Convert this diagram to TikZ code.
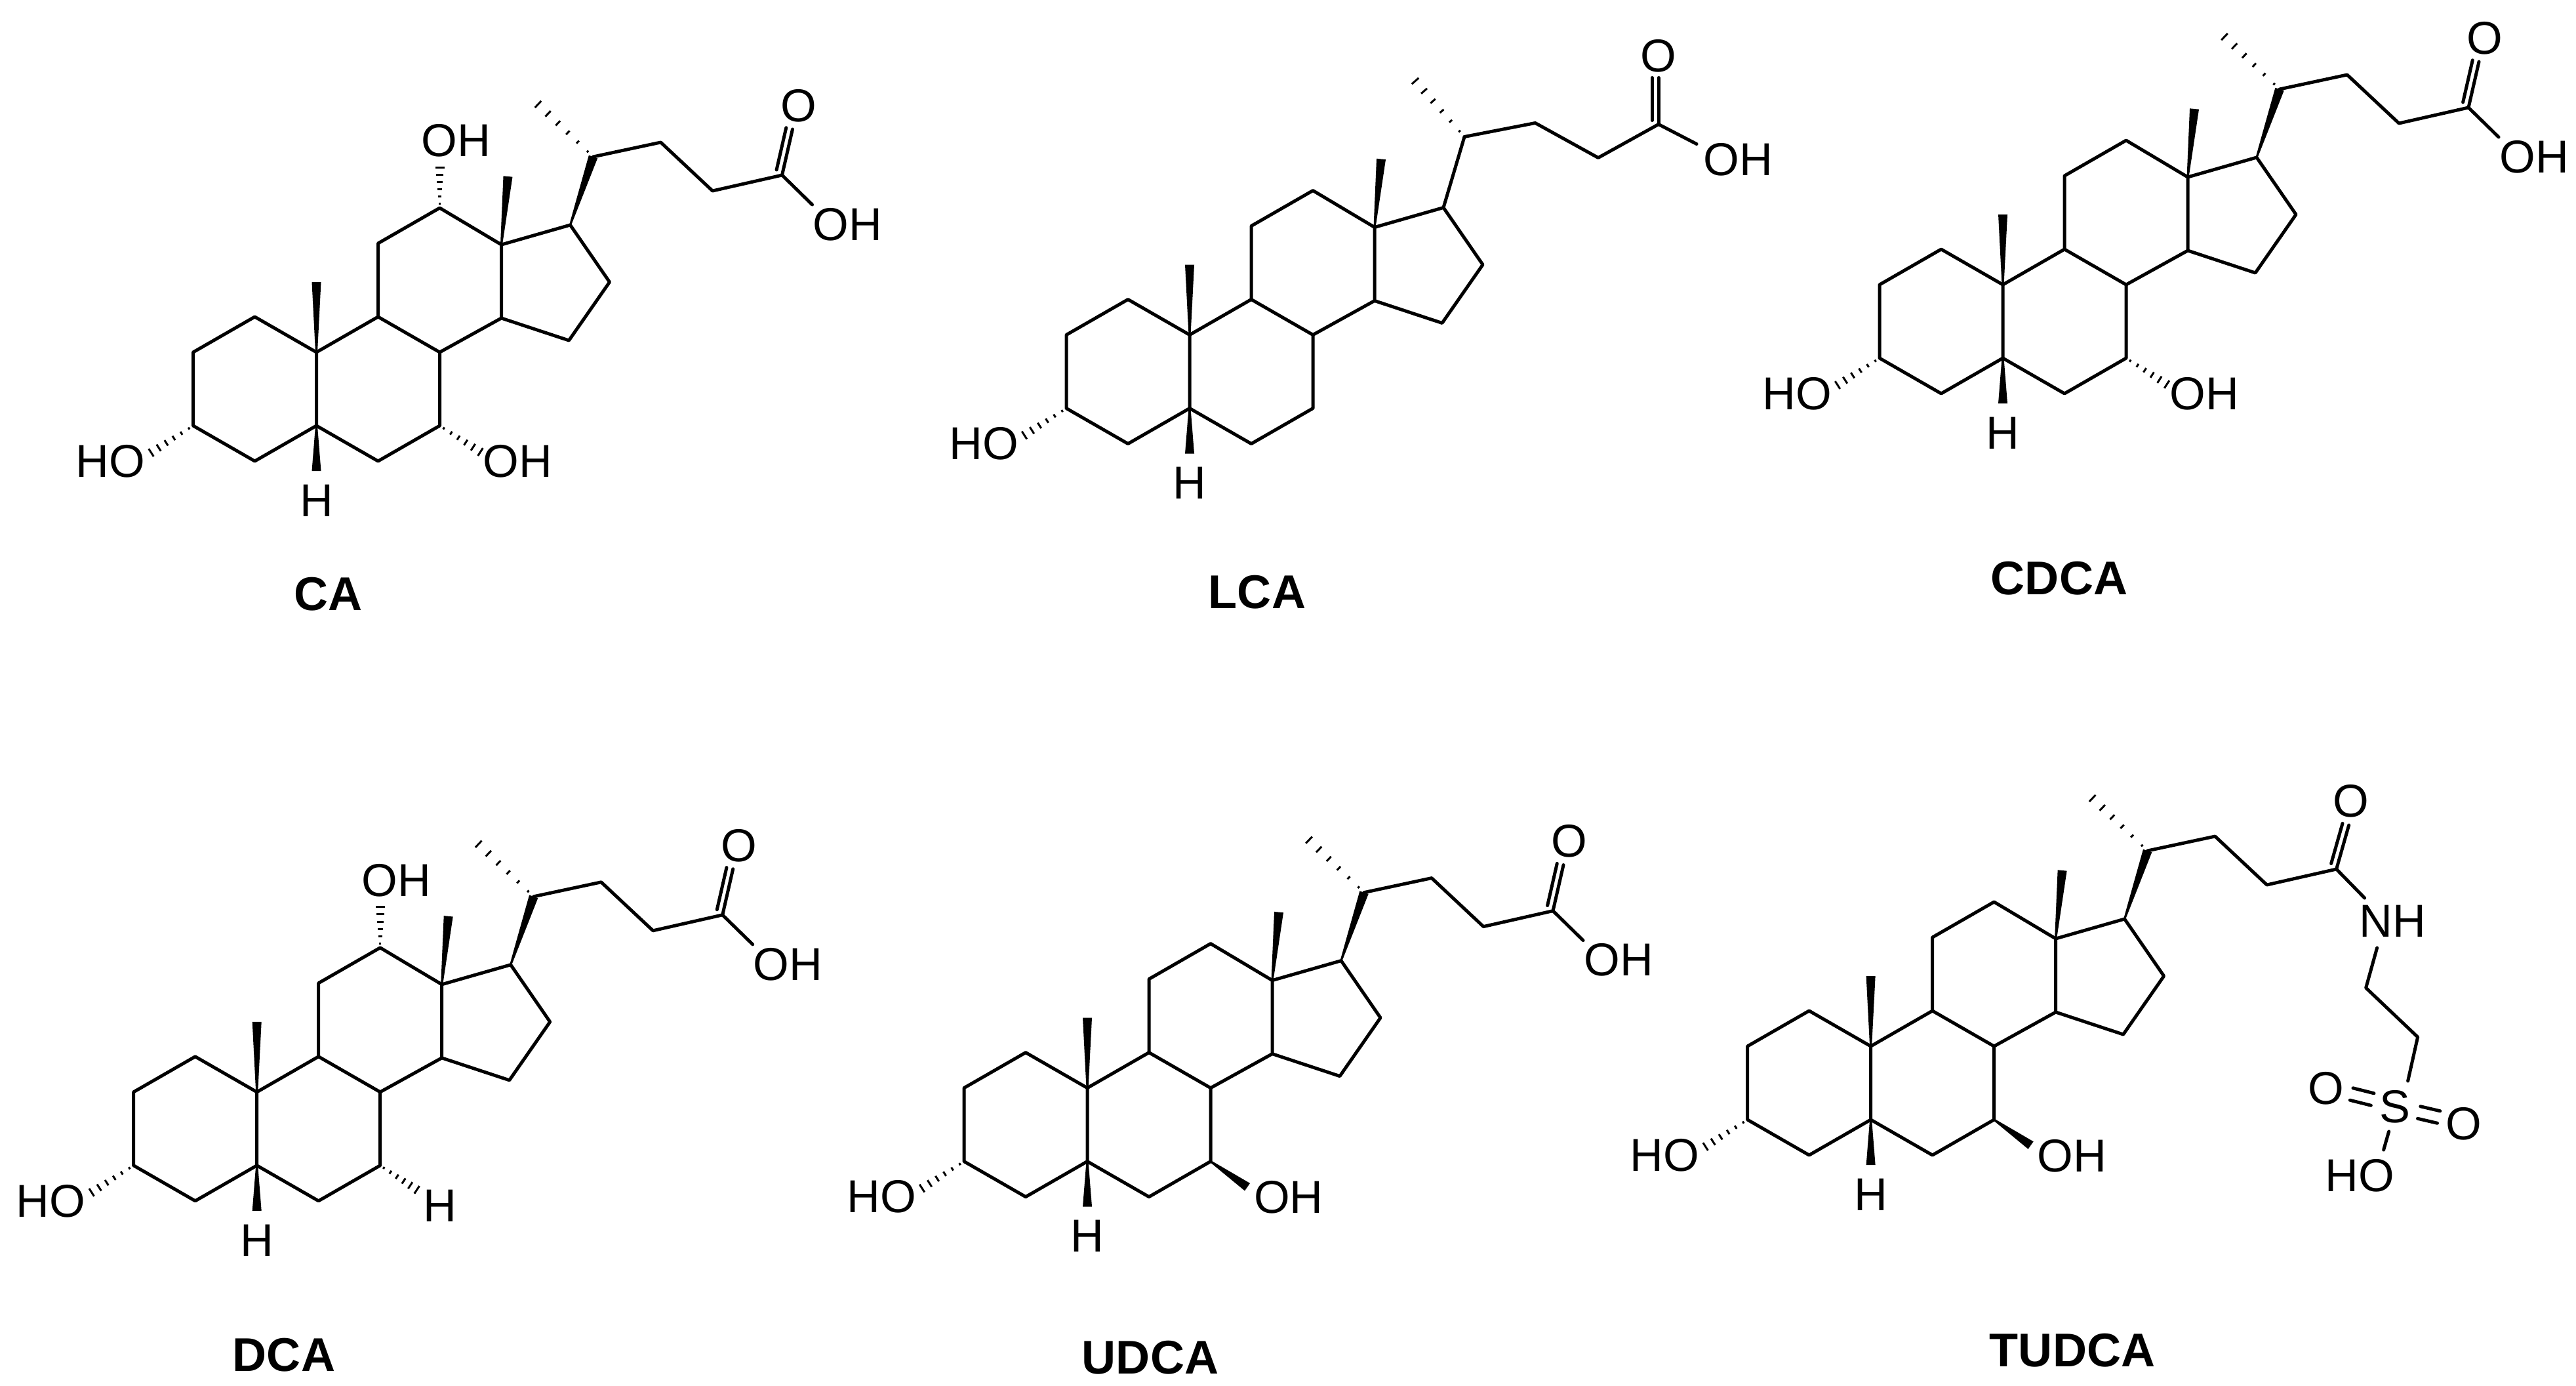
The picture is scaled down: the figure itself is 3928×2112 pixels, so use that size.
\documentclass[tikz,border=0pt]{standalone}
\usepackage{fontspec}
\setmainfont{Liberation Sans}
\usetikzlibrary{calc}
\newcommand\atomfont{\fontsize{20pt}{24pt}\selectfont}
\newcommand\titlefont{\fontsize{20.5pt}{24pt}\selectfont\bfseries}
\tikzset{bond/.style={line width=0.05cm,line join=round,line cap=round},
 atom/.style={inner sep=0pt,font=\atomfont},
 title/.style={inner sep=0pt,font=\titlefont}}
% solid wedge, narrow at #1
\newcommand\wdg[2]{\fill ($(#1)!0.015cm!90:(#2)$) -- ($(#2)!0.07cm!-90:(#1)$) -- ($(#2)!0.07cm!90:(#1)$) -- ($(#1)!0.015cm!-90:(#2)$) -- cycle;}
% hashed wedge, narrow at #1
\newcommand\hsh[2]{\foreach \t in {0.1,0.28,0.46,0.64,0.82,1.0}{%
  \pgfmathsetmacro\hw{0.012+0.058*\t}%
  \path (#1) -- (#2) coordinate[pos=\t] (hp);
  \draw[line width=0.03cm] ($(hp)!\hw cm!90:(#1)$) -- ($(hp)!\hw cm!-90:(#1)$);}}
% double bond, second line on the left
\newcommand\dbl[2]{\draw[bond] (#1) -- (#2);
  \draw[bond,shorten <=0.06cm] ($(#1)!0.1cm!90:(#2)$) -- ($(#2)!0.1cm!-90:(#1)$);}
% steroid skeleton, C10 at origin
\newcommand\skel[1]{%
 \coordinate (c10) at (0,0); \coordinate (c5) at (0,112);
 \coordinate (c1) at (-94,-54); \coordinate (c2) at (-188,0);
 \coordinate (c3) at (-188,112); \coordinate (c4) at (-94,166);
 \coordinate (c9) at (94,-54); \coordinate (c8) at (188,0);
 \coordinate (c7) at (188,112); \coordinate (c6) at (94,166);
 \coordinate (c11) at (94,-166); \coordinate (c12) at (188,-220);
 \coordinate (c13) at (282,-164); \coordinate (c14) at (282,-52);
 \coordinate (c15) at (385,-18); \coordinate (c16) at (447,-107);
 \coordinate (c17) at (387,-194);
 \coordinate (c18) at (292,-268); \coordinate (c19) at (0,-107);
 \coordinate (h5e) at (0,181); \coordinate (o3e) at (-252,153);
 \draw[bond] (c10)--(c1)--(c2)--(c3)--(c4)--(c5)--cycle;
 \draw[bond] (c10)--(c9)--(c8)--(c7)--(c6)--(c5);
 \draw[bond] (c9)--(c11)--(c12)--(c13)--(c14)--(c8);
 \draw[bond] (c13)--(c17)--(c16)--(c15)--(c14);
 \wdg{c10}{c19} \wdg{c13}{c18} \wdg{c5}{h5e}
 \node[atom] (#1-h5) at (0,226) {H};
 \hsh{c3}{o3e}
 \node[atom] (#1-o3) at (-314,166) {HO};}
\newcommand\sevenalpha[1]{\coordinate (o7e) at (250,152); \hsh{c7}{o7e}
 \node[atom] (#1-o7) at (307,166) {OH};}
\newcommand\sevenbeta[1]{\coordinate (o7e) at (244,151); \wdg{c7}{o7e}
 \node[atom] (#1-o7) at (307,167) {OH};}
\newcommand\twelve[1]{\coordinate (o12e) at (188,-282); \hsh{c12}{o12e}
 \node[atom] (#1-o12) at (213,-323) {OH};}
% standard side chain (C20..C24), wedge from C17
\newcommand\sidechain{%
 \coordinate (c20) at (422,-298); \coordinate (c21) at (338,-378);
 \coordinate (c22) at (525,-320); \coordinate (c23) at (604,-246);
 \coordinate (c24) at (710,-270);
 \wdg{c17}{c20} \hsh{c20}{c21}
 \draw[bond] (c20)--(c22)--(c23)--(c24);}
\newcommand\acid[1]{\sidechain
 \coordinate (oe) at (726,-340); \coordinate (ohe) at (756,-225);
 \dbl{c24}{oe} \draw[bond] (c24)--(ohe);
 \node[atom] (#1-o) at (735,-376) {O};
 \node[atom] (#1-oh) at (810,-195) {OH};}
\begin{document}
\begin{tikzpicture}[x=0.01cm,y=-0.01cm]
\useasboundingbox (0,0) rectangle (3928,2112);
% CA
\begin{scope}[shift={(482.5,537)}]
 \skel{ca} \sevenalpha{ca} \twelve{ca} \acid{ca}
\end{scope}
\node[title] (ca) at (501,906) {CA};
% LCA
\begin{scope}[shift={(1814,510.5)}]
 \skel{lca}
 \coordinate (c20) at (419,-302); \coordinate (c21) at (344,-387);
 \coordinate (c22) at (527,-323); \coordinate (c23) at (623,-270);
 \coordinate (c24) at (715,-321); \coordinate (oe) at (715,-392);
 \coordinate (ohe) at (773,-291);
 \draw[bond] (c17)--(c20); \hsh{c20}{c21}
 \draw[bond] (c20)--(c22)--(c23)--(c24)--(ohe);
 \dbl{c24}{oe}
 \node[atom] (lca-o) at (715,-425) {O};
 \node[atom] (lca-oh) at (836,-267) {OH};
\end{scope}
\node[title] (lca) at (1917,903) {LCA};
% CDCA
\begin{scope}[shift={(3054,434)}]
 \skel{cdca} \sevenalpha{cdca} \acid{cdca}
\end{scope}
\node[title] (cdca) at (3140,882) {CDCA};
% DCA
\begin{scope}[shift={(391.7,1664.8)}]
 \skel{dca} \twelve{dca} \acid{dca}
 \coordinate (h7e) at (244,149); \hsh{c7}{h7e}
 \node[atom] (dca-h7) at (279,173) {H};
\end{scope}
\node[title] (dca) at (433,2066) {DCA};
% UDCA
\begin{scope}[shift={(1658,1658.6)}]
 \skel{udca} \sevenbeta{udca} \acid{udca}
\end{scope}
\node[title] (udca) at (1754,2070) {UDCA};
% TUDCA
\begin{scope}[shift={(2852.6,1595)}]
 \skel{tudca} \sevenbeta{tudca} \sidechain
 \coordinate (oe) at (729,-337); \coordinate (ne) at (753,-226);
 \dbl{c24}{oe} \draw[bond] (c24)--(ne);
 \node[atom] (tudca-o) at (732,-374) {O};
 \node[atom] (tudca-nh) at (796,-191) {NH};
 \coordinate (nb) at (772,-150); \coordinate (ca1) at (755,-89);
 \coordinate (ca2) at (834,-14); \coordinate (st) at (819,53);
 \draw[bond] (nb)--(ca1)--(ca2)--(st);
 \node[atom] (tudca-s) at (799,92) {S};
 \node[atom] (tudca-ol) at (694,64) {O};
 \node[atom] (tudca-or) at (904,118) {O};
 \node[atom] (tudca-ho) at (746,197) {HO};
 \coordinate (l1) at (733,73); \coordinate (l2) at (765,81);
 \coordinate (r1) at (836,101); \coordinate (r2) at (866,108);
 \draw[bond] ($(l1)!0.095cm!90:(l2)$) -- ($(l2)!0.095cm!-90:(l1)$);
 \draw[bond] ($(l1)!0.095cm!-90:(l2)$) -- ($(l2)!0.095cm!90:(l1)$);
 \draw[bond] ($(r1)!0.095cm!90:(r2)$) -- ($(r2)!0.095cm!-90:(r1)$);
 \draw[bond] ($(r1)!0.095cm!-90:(r2)$) -- ($(r2)!0.095cm!90:(r1)$);
 \coordinate (sb1) at (790,130); \coordinate (sb2) at (782,158);
 \draw[bond] (sb1)--(sb2);
\end{scope}
\node[title] (tudca) at (3160,2059) {TUDCA};
\end{tikzpicture}
\end{document}
